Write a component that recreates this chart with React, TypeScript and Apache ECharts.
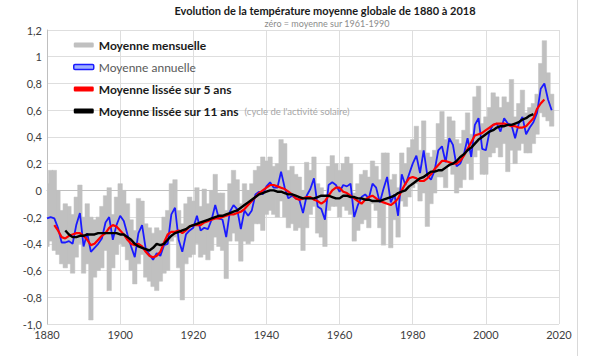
import React, { useEffect, useRef } from "react";
import * as echarts from "echarts";

const FIRST_YEAR = 1880;

// Moyenne annuelle (1880..2018)
const annual = [
  -0.21, -0.20, -0.21, -0.28, -0.39, -0.39, -0.38, -0.40, -0.26, -0.17,
  -0.42, -0.32, -0.46, -0.43, -0.40, -0.36, -0.24, -0.20, -0.37, -0.26,
  -0.19, -0.23, -0.33, -0.42, -0.50, -0.32, -0.26, -0.44, -0.48, -0.52,
  -0.47, -0.49, -0.41, -0.40, -0.18, -0.13, -0.37, -0.46, -0.33, -0.30,
  -0.28, -0.19, -0.30, -0.28, -0.29, -0.22, -0.11, -0.21, -0.22, -0.35,
  -0.16, -0.11, -0.14, -0.29, -0.15, -0.19, -0.15, -0.03, -0.01, -0.03,
  0.03, 0.06, 0.02, 0.02, 0.14, 0.02, -0.06, -0.04, -0.06, -0.07,
  -0.17, -0.04, 0.01, 0.09, -0.12, -0.14, -0.22, 0.04, 0.06, 0.04,
  -0.01, 0.04, 0.03, 0.05, -0.20, -0.11, -0.05, -0.03, -0.06, 0.05,
  0.02, -0.09, 0.01, 0.10, -0.09, -0.03, -0.19, 0.12, 0.04, 0.12,
  0.20, 0.26, 0.13, 0.30, 0.11, 0.08, 0.15, 0.30, 0.33, 0.21,
  0.39, 0.34, 0.18, 0.20, 0.27, 0.39, 0.25, 0.49, 0.54, 0.31,
  0.30, 0.44, 0.49, 0.50, 0.44, 0.54, 0.50, 0.49, 0.39, 0.50,
  0.55, 0.42, 0.47, 0.51, 0.58, 0.76, 0.80, 0.68, 0.60,
];

// Moyenne mensuelle : maximum et minimum des mois de chaque année (1880..2018)
const monthlyMax = [
  0.05, 0.15, 0.15, 0.00, -0.15, -0.10, -0.12, -0.18, -0.05, 0.04,
  -0.20, -0.10, -0.20, -0.22, -0.20, -0.12, -0.04, 0.02, -0.18, -0.05,
  0.05, 0.00, -0.10, -0.22, -0.30, -0.06, -0.08, -0.25, -0.28, -0.32,
  -0.28, -0.30, -0.20, -0.15, 0.05, 0.08, -0.15, -0.25, -0.10, -0.05,
  -0.08, 0.02, -0.12, 0.01, -0.10, 0.00, 0.12, -0.02, -0.02, -0.15,
  0.05, 0.15, 0.08, -0.10, 0.05, 0.00, 0.05, 0.15, 0.18, 0.25,
  0.22, 0.25, 0.18, 0.20, 0.38, 0.35, 0.15, 0.18, 0.12, 0.10,
  0.00, 0.21, 0.15, 0.25, 0.05, 0.02, -0.05, 0.18, 0.26, 0.20,
  0.15, 0.20, 0.25, 0.20, -0.02, 0.05, 0.12, 0.15, 0.10, 0.22,
  0.18, 0.08, 0.28, 0.28, 0.08, 0.12, 0.02, 0.28, 0.20, 0.32,
  0.38, 0.48, 0.30, 0.52, 0.28, 0.25, 0.30, 0.50, 0.59, 0.38,
  0.55, 0.52, 0.38, 0.35, 0.45, 0.58, 0.42, 0.70, 0.78, 0.50,
  0.55, 0.62, 0.73, 0.70, 0.62, 0.70, 0.66, 0.83, 0.55, 0.65,
  0.75, 0.58, 0.62, 0.65, 0.72, 0.95, 1.12, 0.88, 0.72,
];
const monthlyMin = [
  -0.42, -0.38, -0.45, -0.48, -0.55, -0.58, -0.55, -0.62, -0.50, -0.40,
  -0.62, -0.55, -0.97, -0.65, -0.60, -0.58, -0.45, -0.75, -0.58, -0.48,
  -0.40, -0.42, -0.52, -0.60, -0.70, -0.55, -0.48, -0.65, -0.68, -0.72,
  -0.75, -0.68, -0.62, -0.60, -0.38, -0.35, -0.58, -0.82, -0.55, -0.50,
  -0.48, -0.40, -0.50, -0.48, -0.52, -0.45, -0.35, -0.42, -0.45, -0.66,
  -0.38, -0.32, -0.38, -0.53, -0.38, -0.40, -0.38, -0.25, -0.25, -0.30,
  -0.18, -0.15, -0.18, -0.20, -0.08, -0.20, -0.28, -0.25, -0.30, -0.28,
  -0.45, -0.28, -0.18, -0.12, -0.32, -0.35, -0.42, -0.15, -0.12, -0.12,
  -0.20, -0.12, -0.15, -0.18, -0.38, -0.30, -0.25, -0.22, -0.28, -0.10,
  -0.15, -0.28, -0.41, -0.10, -0.43, -0.22, -0.35, -0.08, -0.12, -0.05,
  0.02, 0.05, -0.08, -0.02, -0.27, -0.10, -0.02, 0.10, 0.10, 0.02,
  0.18, 0.12, -0.02, 0.02, 0.08, 0.20, 0.08, 0.25, 0.30, 0.12,
  0.12, 0.25, 0.28, 0.32, 0.25, 0.35, 0.14, 0.30, 0.20, 0.30,
  0.35, 0.28, 0.28, 0.35, 0.42, 0.58, 0.55, 0.52, 0.48,
];

// Moyenne lissée sur 5 ans (1882..2016)
const SMOOTH5_START = 1882;
const smooth5 = [
  -0.26, -0.30, -0.35, -0.36, -0.34, -0.33, -0.32, -0.32,
  -0.34, -0.37, -0.41, -0.40, -0.37, -0.34, -0.32, -0.28, -0.26, -0.27,
  -0.30, -0.33, -0.37, -0.40, -0.41, -0.40, -0.42, -0.46, -0.49, -0.50,
  -0.49, -0.46, -0.39, -0.33, -0.31, -0.31, -0.30, -0.32, -0.30, -0.27,
  -0.26, -0.26, -0.26, -0.24, -0.23, -0.22, -0.21, -0.21, -0.20, -0.19,
  -0.18, -0.18, -0.17, -0.16, -0.14, -0.11, -0.08, -0.05, -0.02, 0.00,
  0.02, 0.04, 0.04, 0.03, 0.02, 0.01, -0.01, -0.03, -0.06, -0.07,
  -0.06, -0.05, -0.05, -0.07, -0.08, -0.10, -0.08, -0.04, 0.00, 0.02,
  0.02, -0.01, -0.02, -0.04, -0.06, -0.08, -0.10, -0.07, -0.05, -0.04,
  -0.06, -0.08, -0.09, -0.10, -0.11, -0.09, -0.06, 0.00, 0.05, 0.09,
  0.10, 0.09, 0.07, 0.07, 0.09, 0.12, 0.16, 0.19, 0.22, 0.22,
  0.21, 0.20, 0.20, 0.22, 0.26, 0.31, 0.36, 0.41, 0.42, 0.43,
  0.45, 0.47, 0.49, 0.50, 0.50, 0.50, 0.49, 0.48, 0.48, 0.47,
  0.47, 0.48, 0.51, 0.54, 0.61, 0.65, 0.68,
];

// Moyenne lissée sur 11 ans (1885..2013)
const SMOOTH11_START = 1885;
const smooth11 = [
  -0.30, -0.33, -0.35, -0.35, -0.34,
  -0.34, -0.33, -0.33, -0.33, -0.32, -0.32, -0.32, -0.32, -0.32, -0.32,
  -0.33, -0.33, -0.35, -0.37, -0.40, -0.42, -0.43, -0.44, -0.45, -0.43,
  -0.40, -0.41, -0.40, -0.37, -0.34, -0.32, -0.31, -0.30, -0.29, -0.27,
  -0.26, -0.25, -0.24, -0.23, -0.22, -0.21, -0.20, -0.19, -0.19, -0.18,
  -0.17, -0.16, -0.15, -0.13, -0.11, -0.09, -0.07, -0.05, -0.03, -0.02,
  -0.01, 0.00, 0.00, -0.01, -0.01, -0.02, -0.03, -0.03, -0.04, -0.05,
  -0.06, -0.06, -0.06, -0.06, -0.05, -0.04, -0.04, -0.04, -0.05, -0.06,
  -0.06, -0.04, -0.04, -0.05, -0.05, -0.06, -0.06, -0.07, -0.07, -0.08,
  -0.08, -0.08, -0.07, -0.06, -0.05, -0.04, -0.02, -0.01, 0.00, 0.03,
  0.05, 0.07, 0.09, 0.10, 0.12, 0.14, 0.14, 0.15, 0.15, 0.17,
  0.19, 0.20, 0.22, 0.25, 0.27, 0.30, 0.32, 0.35, 0.38, 0.40,
  0.42, 0.44, 0.45, 0.47, 0.48, 0.48, 0.49, 0.49, 0.50, 0.51,
  0.53, 0.54, 0.56, 0.57,
];

const X_MIN = 1880;
const X_MAX = 2020;
const X_STEP = 20;
const Y_MIN = -1.0;
const Y_MAX = 1.2;
const Y_STEP = 0.2;

const NAMES = [
  "Moyenne mensuelle",
  "Moyenne annuelle",
  "Moyenne lissée sur 5 ans",
  "Moyenne lissée sur 11 ans",
];

const FONT = "Lato, 'Open Sans', sans-serif";

export default function App() {
  const ref = useRef<HTMLDivElement>(null);

  useEffect(() => {
    if (!ref.current) return;
    const chart = echarts.init(ref.current, null, { renderer: "svg" });

    const toPairs = (start: number, arr: number[]) =>
      arr.map((v, i) => [start + i, v]);
    const ranges = monthlyMin.map((lo, i) => [FIRST_YEAR + i, lo, monthlyMax[i]]);

    const option: any = {
      animation: false,
      backgroundColor: "#ffffff",
      textStyle: { fontFamily: FONT },
      grid: { left: 47, right: 31, top: 30, bottom: 32, containLabel: false },
      graphic: [
        {
          type: "text",
          x: 325,
          y: 10,
          style: {
            text: "Evolution de la température moyenne globale de 1880 à 2018",
            align: "center",
            verticalAlign: "middle",
            fontFamily: FONT,
            fontSize: 11,
            fontWeight: "bold",
            fill: "#1a1a1a",
          },
        },
        {
          type: "text",
          x: 327,
          y: 23,
          style: {
            text: "zéro = moyenne sur 1961-1990",
            align: "center",
            verticalAlign: "middle",
            fontFamily: FONT,
            fontSize: 9,
            fill: "#8c8c8c",
          },
        },
        {
          type: "line",
          shape: { x1: 577.5, y1: 0, x2: 577.5, y2: 356 },
          style: { stroke: "#d9d9d9", lineWidth: 1 },
        },
      ],
      legend: {
        orient: "vertical",
        left: 68,
        top: 33,
        itemGap: 8,
        itemWidth: 20,
        itemHeight: 5,
        selectedMode: false,
        textStyle: {
          fontFamily: FONT,
          fontSize: 12,
          fontWeight: "bold",
          color: "#1a1a1a",
          lineHeight: 14,
          rich: {
            s: {
              fontFamily: FONT,
              fontSize: 9.5,
              fontWeight: "normal",
              color: "#a6a6a6",
              padding: [0, 0, 0, 3],
            },
          },
        },
        formatter: (name: string) =>
          name === NAMES[3] ? `${name} {s|(cycle de l'activité solaire)}` : name,
        data: [
          { name: NAMES[0], icon: "roundRect", itemStyle: { color: "#c0c0c0" } },
          {
            name: NAMES[1],
            icon: "roundRect",
            itemStyle: { color: "#9fb0ff", borderColor: "#1a1aff", borderWidth: 1.5 },
            textStyle: { fontWeight: "normal", color: "#595959" },
          },
          { name: NAMES[2], icon: "roundRect", itemStyle: { color: "#ff0000" } },
          { name: NAMES[3], icon: "roundRect", itemStyle: { color: "#000000" } },
        ],
      },
      xAxis: {
        type: "value",
        min: X_MIN,
        max: X_MAX,
        interval: X_STEP,
        axisLine: { show: true, lineStyle: { color: "#bfbfbf" } },
        axisTick: { show: false },
        axisLabel: {
          color: "#404040",
          fontSize: 11,
          fontFamily: FONT,
          margin: 5,
          formatter: (v: number) => String(v),
        },
        splitLine: { show: true, lineStyle: { color: "#dedede", width: 1 } },
      },
      yAxis: {
        type: "value",
        min: Y_MIN,
        max: Y_MAX,
        interval: Y_STEP,
        axisLine: { show: true, lineStyle: { color: "#bfbfbf" } },
        axisTick: { show: false },
        axisLabel: {
          color: "#404040",
          fontSize: 11,
          fontFamily: FONT,
          margin: 5,
          formatter: (v: number) => {
            const r = Math.round(v * 10) / 10;
            if (r === -1) return "-1,0";
            return String(r).replace(".", ",");
          },
        },
        splitLine: { show: true, lineStyle: { color: "#dedede", width: 1 } },
      },
      series: [
        {
          name: NAMES[0],
          type: "custom",
          clip: true,
          encode: { x: 0, y: [1, 2] },
          itemStyle: { color: "#c0c0c0" },
          renderItem: (params: any, api: any) => {
            const x = api.value(0);
            const lo = api.value(1);
            const hi = api.value(2);
            const p1 = api.coord([x - 0.5, hi]);
            const p2 = api.coord([x + 0.5, lo]);
            return {
              type: "rect",
              shape: {
                x: p1[0] - 0.4,
                y: p1[1],
                width: p2[0] - p1[0] + 0.8,
                height: p2[1] - p1[1],
              },
              style: { fill: "#c0c0c0", stroke: "#c0c0c0", lineWidth: 0.5 },
            };
          },
          data: ranges,
          z: 1,
        },
        {
          name: NAMES[1],
          type: "line",
          showSymbol: false,
          data: toPairs(FIRST_YEAR, annual),
          lineStyle: { color: "#1a1aff", width: 1.8 },
          itemStyle: { color: "#1a1aff" },
          z: 2,
        },
        {
          name: NAMES[2],
          type: "line",
          showSymbol: false,
          data: toPairs(SMOOTH5_START, smooth5),
          lineStyle: { color: "#ff0000", width: 2.2 },
          itemStyle: { color: "#ff0000" },
          z: 3,
        },
        {
          name: NAMES[3],
          type: "line",
          showSymbol: false,
          data: toPairs(SMOOTH11_START, smooth11),
          lineStyle: { color: "#000000", width: 2.4 },
          itemStyle: { color: "#000000" },
          z: 4,
        },
      ],
    };

    chart.setOption(option);
    return () => chart.dispose();
  }, []);

  return <div ref={ref} style={{ width: 590, height: 356, position: "absolute", left: 0, top: 0 }} />;
}
